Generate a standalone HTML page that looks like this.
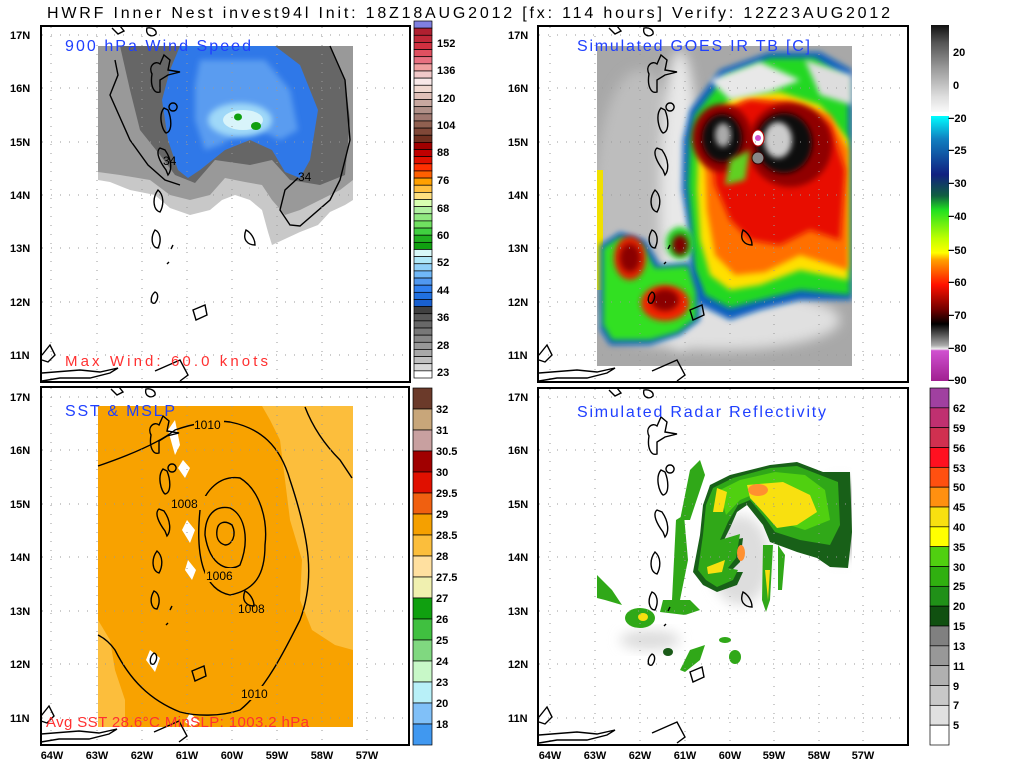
<!DOCTYPE html>
<html><head><meta charset="utf-8"><style>
html,body{margin:0;padding:0;background:#fff;}
svg{display:block;font-family:"Liberation Sans",sans-serif;}
.ax{font-weight:bold;font-size:11px;fill:#000;}
.cb{font-weight:bold;font-size:11px;fill:#000;}
.pl{font-size:16px;fill:#2040ff;}
.red{font-size:15px;fill:#ff3030;}
.grid{stroke:#999;stroke-width:1;stroke-dasharray:1,8;fill:none;}
.coast{stroke:#000;stroke-width:1.4;fill:none;}
</style></head><body>
<svg width="1024" height="768" viewBox="0 0 1024 768" xmlns="http://www.w3.org/2000/svg">
<defs>
<filter id="b3" x="-20%" y="-20%" width="140%" height="140%"><feGaussianBlur stdDeviation="3"/></filter>
<filter id="b6" x="-30%" y="-30%" width="160%" height="160%"><feGaussianBlur stdDeviation="6"/></filter>
<clipPath id="c1"><rect x="98" y="46" width="255" height="320"/></clipPath>
<clipPath id="c2"><rect x="597" y="46" width="255" height="320"/></clipPath>
<clipPath id="c4"><rect x="597" y="406" width="255" height="320"/></clipPath>
<linearGradient id="irg" x1="0" y1="0" x2="0" y2="1">
<stop offset="0" stop-color="#101010"/><stop offset="0.05" stop-color="#555"/><stop offset="0.12" stop-color="#999"/><stop offset="0.2" stop-color="#ddd"/><stop offset="0.245" stop-color="#fafafa"/>
<stop offset="0.245" stop-color="#fff"/><stop offset="0.255" stop-color="#fff"/><stop offset="0.255" stop-color="#00ffff"/>
<stop offset="0.32" stop-color="#1080c0"/><stop offset="0.42" stop-color="#102080"/><stop offset="0.48" stop-color="#106040"/><stop offset="0.52" stop-color="#20e020"/><stop offset="0.6" stop-color="#c0ff00"/><stop offset="0.64" stop-color="#ffff00"/><stop offset="0.66" stop-color="#ffa000"/><stop offset="0.73" stop-color="#ff1000"/><stop offset="0.8" stop-color="#700000"/><stop offset="0.84" stop-color="#000"/><stop offset="0.9" stop-color="#aaa"/><stop offset="0.91" stop-color="#eee"/><stop offset="0.915" stop-color="#d050d0"/><stop offset="1" stop-color="#a02090"/>
</linearGradient>
</defs>

<text x="47" y="18" font-size="16" textLength="843" lengthAdjust="spacing">HWRF Inner Nest invest94l Init: 18Z18AUG2012 [fx: 114 hours] Verify: 12Z23AUG2012</text>

<!-- ============ PANEL 1 ============ -->
<g clip-path="url(#c1)">
<path d="M98,46 H353 V200 L345,205 L330,212 L318,225 L300,232 L272,245 L268,232 L262,210 L250,200 L235,195 L222,200 L210,210 L190,215 L170,208 L155,195 L130,190 L110,182 L98,180Z" fill="#c8c8c8"/>
<path d="M98,46 H353 V180 L340,190 L320,200 L300,210 L285,215 L272,200 L262,185 L245,182 L225,178 L210,195 L190,200 L170,195 L150,180 L120,175 L98,172Z" fill="#999"/>
<path d="M120,46 H330 L345,80 L350,120 L345,175 L320,185 L290,180 L272,160 L250,165 L215,160 L195,183 L175,175 L160,155 L140,130 L130,90Z" fill="#666"/>
<path d="M180,46 H275 L300,65 L318,110 L310,160 L300,178 L285,172 L272,150 L250,140 L225,150 L200,170 L188,178 L178,170 L168,140 L162,100 L170,70Z" fill="#2f78e8"/>
<path d="M200,60 H265 L290,90 L298,130 L280,140 L260,130 L240,133 L220,145 L205,150 L195,120 L195,85Z" fill="#5a9cf0" filter="url(#b3)"/>
<ellipse cx="240" cy="120" rx="32" ry="17" fill="#9fd8f8" filter="url(#b3)"/>
<ellipse cx="243" cy="120" rx="20" ry="10" fill="#d8f4fa"/>
<ellipse cx="238" cy="117" rx="4" ry="3.5" fill="#10a010"/>
<ellipse cx="256" cy="126" rx="5" ry="4" fill="#10a010"/>
</g>
<path d="M115,60 L118,75 L110,95 L130,140 L148,165 L165,180 L180,185 M298,178 L285,190 L280,210 L290,225 L300,226 L330,200 L340,180 L350,140 L345,80 L330,46" class="coast" stroke-width="1" />
<text x="163" y="165" font-size="12">34</text><text x="298" y="181" font-size="12">34</text>

<!-- ============ PANEL 2 ============ -->
<g clip-path="url(#c2)">
<rect x="597" y="46" width="255" height="320" fill="#a8a8a8"/>
<ellipse cx="640" cy="200" rx="45" ry="130" fill="#bdbdbd" filter="url(#b6)"/>
<ellipse cx="680" cy="200" rx="20" ry="150" fill="#e8e8e8" filter="url(#b6)"/>
<ellipse cx="720" cy="320" rx="120" ry="30" fill="#e0e0e0" filter="url(#b6)"/>
<rect x="597" y="170" width="6" height="120" fill="#f0e000"/>
<!-- main storm -->
<path d="M690,110 L720,70 L770,52 L820,52 L852,70 L852,300 L800,300 L760,310 L730,320 L700,305 L690,290 L690,240 L682,190 L683,140Z" fill="#1060c0" filter="url(#b3)"/>
<path d="M695,115 L725,76 L770,58 L815,58 L848,80 L850,295 L800,290 L760,300 L730,308 L705,295 L695,270 L692,230 L688,185 L690,140Z" fill="#20d820" filter="url(#b3)"/>
<path d="M703,125 L735,95 L780,92 L820,105 L848,140 L848,280 L800,270 L760,285 L730,290 L710,275 L700,240 L697,190 L698,150Z" fill="#ffe000" filter="url(#b3)"/>
<path d="M710,120 L745,98 L790,100 L830,115 L848,150 L848,270 L800,255 L765,272 L735,275 L715,255 L707,210 L705,160Z" fill="#ff7000" filter="url(#b3)"/>
<path d="M715,115 L750,100 L790,105 L830,125 L845,170 L840,240 L810,230 L780,245 L750,240 L730,220 L715,185 L712,150Z" fill="#e81000" filter="url(#b3)"/>
<ellipse cx="722" cy="138" rx="30" ry="34" fill="#900000" filter="url(#b3)"/>
<ellipse cx="790" cy="145" rx="42" ry="42" fill="#900000" filter="url(#b3)"/>
<ellipse cx="722" cy="138" rx="20" ry="24" fill="#111" filter="url(#b3)"/>
<ellipse cx="784" cy="143" rx="28" ry="30" fill="#111" filter="url(#b3)"/>
<ellipse cx="723" cy="135" rx="8" ry="12" fill="#aaa" filter="url(#b3)"/>
<ellipse cx="778" cy="140" rx="14" ry="18" fill="#ccc" filter="url(#b3)"/>
<ellipse cx="758" cy="138" rx="6" ry="8" fill="#fff" stroke="#b00" stroke-width="1"/>
<circle cx="758" cy="138" r="3" fill="#d050d0"/>
<circle cx="758" cy="158" r="6" fill="#888" stroke="#300" stroke-width="1"/>
<path d="M730,160 L750,150 L745,180 L725,185Z" fill="#60d020" filter="url(#b3)"/>
<path d="M710,80 L760,62 L800,80 L770,92 L730,100Z" fill="#e8e8e8" filter="url(#b3)"/>
<path d="M805,60 L852,75 L852,105 L820,95Z" fill="#ddd" filter="url(#b3)"/>
<!-- left blobs -->
<path d="M600,245 L620,232 L645,240 L660,265 L690,262 L700,290 L700,320 L680,335 L650,345 L610,345 L600,330Z" fill="#1060c0" filter="url(#b3)"/>
<path d="M603,248 L620,237 L642,244 L655,268 L688,266 L696,292 L696,318 L678,332 L650,340 L612,340 L603,325Z" fill="#30e020" filter="url(#b3)"/>
<ellipse cx="630" cy="258" rx="16" ry="22" fill="#e02000" filter="url(#b3)"/>
<ellipse cx="630" cy="258" rx="10" ry="14" fill="#8a0000" filter="url(#b3)"/>
<ellipse cx="665" cy="303" rx="24" ry="18" fill="#f02000" filter="url(#b3)"/>
<ellipse cx="665" cy="300" rx="14" ry="11" fill="#8a0000" filter="url(#b3)"/>
<ellipse cx="680" cy="243" rx="14" ry="16" fill="#20d020" filter="url(#b3)"/>
<ellipse cx="680" cy="245" rx="8" ry="10" fill="#800000" filter="url(#b3)"/>
</g>

<!-- ============ PANEL 3 ============ -->
<rect x="98" y="406" width="255" height="321" fill="#f8a200"/>
<path d="M262,406 H353 V650 L335,645 L312,630 L300,600 L302,560 L290,520 L285,480 L280,440 L270,420Z" fill="#fcbe3c"/>
<path d="M98,620 L110,640 L115,670 L125,700 L125,727 H98Z" fill="#fcbe3c"/>
<path d="M168,430 L175,420 L180,445 L175,455Z" fill="#fff"/>
<path d="M183,460 L190,468 L185,478 L178,468Z" fill="#fff"/>
<path d="M187,520 L195,530 L190,543 L182,530Z" fill="#fff"/>
<path d="M188,560 L196,570 L192,580 L185,570Z" fill="#fff"/>
<path d="M150,650 L160,658 L155,672 L146,660Z" fill="#fff"/>
<path d="M190,713 L200,722 L192,727 L185,722Z" fill="#fff"/>
<path d="M98,466 C130,455 160,442 175,430 C195,423 215,420 230,422 C260,428 280,445 290,480 C310,540 315,580 300,620 C285,650 265,690 240,710 C220,717 195,716 180,712 C150,700 130,680 115,650 C108,640 100,636 98,635" class="coast" stroke-width="1"/>
<path d="M305,407 C310,420 320,440 340,460 L352,478" class="coast" stroke-width="1"/>
<path d="M200,510 C205,490 220,475 240,478 C260,490 268,520 265,545 C265,575 255,590 230,595 C205,590 195,560 200,510Z" class="coast" stroke-width="1"/>
<path d="M205,535 C205,515 215,505 230,508 C245,515 250,540 240,565 C230,572 210,568 205,535Z" class="coast" stroke-width="1"/>
<path d="M217,530 C218,522 225,520 232,525 C237,535 232,545 225,545 C218,543 216,537 217,530Z" class="coast" stroke-width="1"/>
<rect x="205" y="568" width="40" height="14" fill="#f8a200"/><text x="206" y="580" font-size="12">1006</text>
<rect x="170" y="496" width="40" height="14" fill="#f8a200"/><text x="171" y="508" font-size="12">1008</text>
<rect x="238" y="601" width="28" height="14" fill="#f8a200"/><text x="238" y="613" font-size="12">1008</text>
<rect x="194" y="417" width="30" height="14" fill="#f8a200"/><text x="194" y="429" font-size="12">1010</text>
<rect x="240" y="686" width="30" height="14" fill="#f8a200"/><text x="241" y="698" font-size="12">1010</text>

<!-- ============ PANEL 4 ============ -->
<g clip-path="url(#c4)">
<ellipse cx="740" cy="560" rx="30" ry="45" fill="#ddd" filter="url(#b6)"/>
<ellipse cx="650" cy="640" rx="30" ry="10" fill="#ddd" filter="url(#b6)"/>
<ellipse cx="840" cy="520" rx="20" ry="40" fill="#bbb" filter="url(#b6)"/>
<path d="M710,485 L730,475 L770,465 L797,462 L823,472 L850,472 L852,532 L848,568 L830,567 L817,558 L797,552 L770,542 L763,525 L747,505 L737,512 L730,528 L723,542 L743,538 L740,562 L730,572 L743,572 L737,585 L717,592 L703,585 L693,572 L700,535 L703,505Z" fill="#186018"/>
<path d="M713,488 L733,478 L770,468 L797,466 L820,475 L838,482 L840,525 L830,545 L800,540 L775,532 L765,518 L750,500 L738,505 L728,522 L720,540 L740,534 L736,558 L728,568 L738,570 L733,580 L717,587 L706,580 L698,570 L703,535 L706,505Z" fill="#30a818"/>
<path d="M720,490 L740,480 L775,472 L805,475 L825,490 L830,520 L805,530 L780,522 L765,505 L752,495 L740,500 L726,515 L722,500Z" fill="#50d010"/>
<path d="M747,485 L783,482 L810,495 L817,512 L797,525 L777,528 L763,512 L750,498Z" fill="#f8e010"/>
<path d="M717,488 L727,492 L723,512 L713,512Z" fill="#f8e010"/>
<path d="M707,567 L725,560 L722,572 L708,574Z" fill="#f8e010"/>
<ellipse cx="758" cy="490" rx="10" ry="6" fill="#ff9030"/>
<ellipse cx="741" cy="553" rx="4" ry="8" fill="#ff9030"/>
<path d="M690,470 L700,460 L705,475 L690,520 L680,520Z" fill="#30a818"/>
<path d="M676,520 L684,515 L688,560 L680,600 L672,600Z" fill="#30a818"/>
<path d="M663,600 L690,600 L700,610 L685,615 L660,612Z" fill="#30a818"/>
<ellipse cx="640" cy="618" rx="15" ry="10" fill="#30a818"/><ellipse cx="643" cy="617" rx="5" ry="4" fill="#f8e010"/>
<path d="M680,670 L690,650 L705,645 L700,660 L685,672Z" fill="#30a818"/>
<path d="M597,575 L612,590 L622,605 L605,600 L597,598Z" fill="#30a818"/>
<path d="M763,545 L773,545 L770,600 L766,612 L762,600Z" fill="#30a818"/><path d="M765,570 L770,570 L768,600Z" fill="#f8e010"/>
<path d="M778,545 L785,555 L782,590 L778,590Z" fill="#30a818"/>
<ellipse cx="735" cy="657" rx="6" ry="7" fill="#30a818"/>
<ellipse cx="725" cy="640" rx="6" ry="3" fill="#30a818"/>
<ellipse cx="668" cy="652" rx="5" ry="4" fill="#1a5a18"/>
</g>

<!-- ============ Grids, frames, coastlines, labels ============ -->
<g id="frames">
<rect x="41" y="26" width="369" height="356" fill="none" stroke="#000" stroke-width="2"/>
<rect x="41" y="387" width="368" height="358" fill="none" stroke="#000" stroke-width="2"/>
<rect x="538" y="26" width="370" height="356" fill="none" stroke="#000" stroke-width="2"/>
<rect x="538" y="388" width="370" height="357" fill="none" stroke="#000" stroke-width="2"/>
</g>
<g class="grid">
<path d="M51,27V381M97,27V381M142,27V381M187,27V381M232,27V381M277,27V381M322,27V381M367,27V381 M42,35H409M42,88H409M42,142H409M42,195H409M42,248H409M42,302H409M42,355H409"/>
<path d="M51,388V744M97,388V744M142,388V744M187,388V744M232,388V744M277,388V744M322,388V744M367,388V744 M42,397H408M42,450H408M42,504H408M42,557H408M42,611H408M42,664H408M42,718H408"/>
<path d="M550,27V381M595,27V381M640,27V381M685,27V381M730,27V381M774,27V381M819,27V381M863,27V381 M539,35H907M539,88H907M539,142H907M539,195H907M539,248H907M539,302H907M539,355H907"/>
<path d="M550,389V744M595,389V744M640,389V744M685,389V744M730,389V744M774,389V744M819,389V744M863,389V744 M539,397H907M539,450H907M539,504H907M539,557H907M539,611H907M539,664H907M539,718H907"/>
</g>

<!-- coastlines (same for each panel, offset) -->
<g id="co">
<path class="coast" d="M112,28 L118,34 L124,31 L120,26 M147,28 C145,35 152,38 156,34 C157,30 152,27 147,28Z M152,74 C148,66 155,60 160,64 L164,55 L170,60 L168,70 L180,72 L168,75 L160,80 L160,92 C154,94 150,86 152,74Z M173,103 A4,4 0 1,0 173.1,103Z M164,108 C158,115 162,130 166,133 C172,132 172,120 168,110Z M160,148 C155,152 160,162 166,170 L168,175 C172,170 172,160 165,150Z M158,190 C152,198 153,210 160,212 C164,205 164,195 158,190Z M155,230 C150,238 152,248 158,248 C162,240 160,232 155,230Z M246,230 C242,240 248,245 255,245 C255,238 250,232 246,230Z M173,245 L171,249 M169,262 L167,264 M155,292 C150,296 150,305 155,303 C159,298 158,293 155,292Z M193,310 L205,305 L207,315 L196,320Z M42,355 L50,345 L55,355 L48,362 L42,360 M42,373 L80,370 L100,372 L118,368 L110,373 L90,378 L60,378 L42,381 M155,371 L180,360 L188,375 L180,381"/>
</g>
<use href="#co" transform="translate(497,0)"/>
<use href="#co" transform="translate(-1,361)"/>
<use href="#co" transform="translate(497,362)"/>

<!-- axis labels -->
<g class="ax">
<text x="10" y="39">17N</text><text x="10" y="92">16N</text><text x="10" y="146">15N</text><text x="10" y="199">14N</text><text x="10" y="252">13N</text><text x="10" y="306">12N</text><text x="10" y="359">11N</text>
<text x="10" y="401">17N</text><text x="10" y="454">16N</text><text x="10" y="508">15N</text><text x="10" y="561">14N</text><text x="10" y="615">13N</text><text x="10" y="668">12N</text><text x="10" y="722">11N</text>
<text x="508" y="39">17N</text><text x="508" y="92">16N</text><text x="508" y="146">15N</text><text x="508" y="199">14N</text><text x="508" y="252">13N</text><text x="508" y="306">12N</text><text x="508" y="359">11N</text>
<text x="508" y="401">17N</text><text x="508" y="454">16N</text><text x="508" y="508">15N</text><text x="508" y="561">14N</text><text x="508" y="615">13N</text><text x="508" y="668">12N</text><text x="508" y="722">11N</text>
</g>
<g class="ax" text-anchor="middle">
<text x="52" y="759">64W</text><text x="97" y="759">63W</text><text x="142" y="759">62W</text><text x="187" y="759">61W</text><text x="232" y="759">60W</text><text x="277" y="759">59W</text><text x="322" y="759">58W</text><text x="367" y="759">57W</text>
<text x="550" y="759">64W</text><text x="595" y="759">63W</text><text x="640" y="759">62W</text><text x="685" y="759">61W</text><text x="730" y="759">60W</text><text x="774" y="759">59W</text><text x="819" y="759">58W</text><text x="863" y="759">57W</text>
</g>

<text x="65" y="51" class="pl" textLength="186" lengthAdjust="spacing">900 hPa Wind Speed</text>
<text x="577" y="51" class="pl" textLength="233" lengthAdjust="spacing">Simulated GOES IR TB [C]</text>
<text x="65" y="416" class="pl" textLength="110" lengthAdjust="spacing">SST &amp; MSLP</text>
<text x="577" y="417" class="pl" textLength="249" lengthAdjust="spacing">Simulated Radar Reflectivity</text>
<text x="65" y="366" class="red" textLength="203" lengthAdjust="spacing">Max Wind:  60.0 knots</text>
<text x="46" y="727" class="red" font-size="13" textLength="263" lengthAdjust="spacing">Avg SST  28.6°C  MinSLP: 1003.2 hPa</text>

<!-- colorbar 1 -->
<g id="cb1" stroke="#000" stroke-width="0.7"></g>
<g class="cb">
<text x="437" y="47">152</text><text x="437" y="74">136</text><text x="437" y="102">120</text><text x="437" y="129">104</text><text x="437" y="156">88</text><text x="437" y="184">76</text><text x="437" y="212">68</text><text x="437" y="239">60</text><text x="437" y="266">52</text><text x="437" y="294">44</text><text x="437" y="321">36</text><text x="437" y="349">28</text><text x="437" y="376">23</text>
</g>
<!-- colorbar 2 -->
<rect x="931" y="25" width="18" height="356" fill="url(#irg)"/>
<g class="cb">
<text x="953" y="56">20</text><text x="953" y="89">0</text><text x="948" y="122">−20</text><text x="948" y="154">−25</text><text x="948" y="187">−30</text><text x="948" y="220">−40</text><text x="948" y="254">−50</text><text x="948" y="286">−60</text><text x="948" y="319">−70</text><text x="948" y="352">−80</text><text x="948" y="384">−90</text>
</g>
<!-- colorbar 3 -->
<g id="cb3" stroke="#000" stroke-width="0.7"></g>
<g class="cb">
<text x="436" y="413">32</text><text x="436" y="434">31</text><text x="436" y="455">30.5</text><text x="436" y="476">30</text><text x="436" y="497">29.5</text><text x="436" y="518">29</text><text x="436" y="539">28.5</text><text x="436" y="560">28</text><text x="436" y="581">27.5</text><text x="436" y="602">27</text><text x="436" y="623">26</text><text x="436" y="644">25</text><text x="436" y="665">24</text><text x="436" y="686">23</text><text x="436" y="707">20</text><text x="436" y="728">18</text>
</g>
<!-- colorbar 4 -->
<g id="cb4" stroke="#000" stroke-width="0.7"></g>
<g class="cb">
<text x="953" y="412">62</text><text x="953" y="432">59</text><text x="953" y="452">56</text><text x="953" y="472">53</text><text x="953" y="491">50</text><text x="953" y="511">45</text><text x="953" y="531">40</text><text x="953" y="551">35</text><text x="953" y="571">30</text><text x="953" y="590">25</text><text x="953" y="610">20</text><text x="953" y="630">15</text><text x="953" y="650">13</text><text x="953" y="670">11</text><text x="953" y="690">9</text><text x="953" y="709">7</text><text x="953" y="729">5</text>
</g>
</svg>
<script>
function bar(id,x,y0,y1,w,cols){var g=document.getElementById(id),n=cols.length,h=(y1-y0)/n,s='';
for(var i=0;i<n;i++){s+='<rect x="'+x+'" y="'+(y0+i*h).toFixed(2)+'" width="'+w+'" height="'+h.toFixed(2)+'" fill="'+cols[i]+'"/>';}
g.innerHTML=s;}
bar('cb1',414,21,378,18,['#8080e0','#b02030','#c02838','#d03040','#e05060','#e87080','#f0a0a0','#f0c8c8','#f8e8e8','#f0d8d0','#e0c0b8','#c8a8a0','#b09088','#a07870','#906050','#804838','#703020','#a00000','#c00000','#e01000','#ff3000','#ff6000','#ffa000','#ffc040','#ffe080','#d8ffb0','#b0f0a0','#90e880','#70e060','#40d040','#20b020','#10a010','#d8f8f8','#b0e8f8','#90d0f8','#70b8f8','#5098f0','#3080f0','#2070e0','#1860d0','#404040','#585858','#686868','#787878','#888888','#989898','#a8a8a8','#c0c0c0','#d8d8d8','#ffffff']);
bar('cb3',413,388,745,19,['#6b3a2a','#c8a67a','#c8a0a0','#a00000','#e01000','#f06010','#f5a000','#fbbe3c','#ffe0a0','#f0f0b0','#10a010','#40c040','#80d880','#c8f8c8','#b8f0f8','#80c0f8','#4098f0']);
bar('cb4',930,388,745,19,['#a040a0','#c03070','#d03050','#ff1020','#ff5010','#ff9010','#f8e010','#ffff00','#50d010','#30b010','#209018','#105010','#808080','#989898','#b0b0b0','#c8c8c8','#e0e0e0','#ffffff']);
</script>
</body></html>
